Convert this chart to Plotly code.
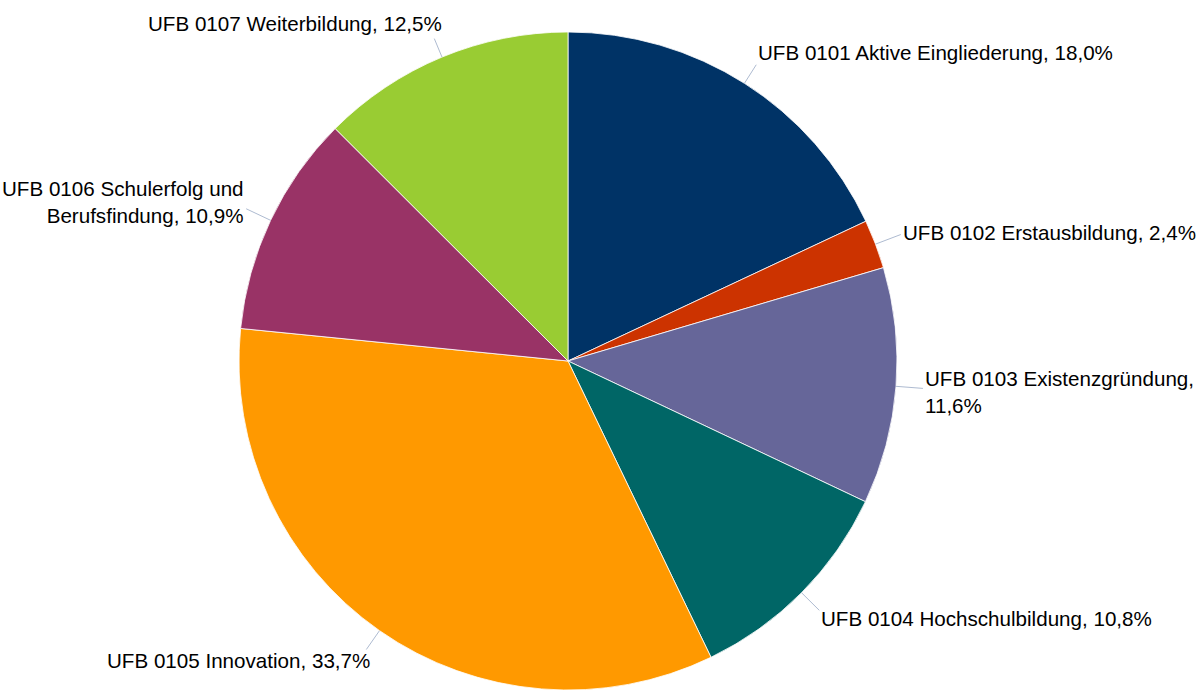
import math
import plotly.graph_objects as go

# ---- data ----
categories = [
    "UFB 0101 Aktive Eingliederung",
    "UFB 0102 Erstausbildung",
    "UFB 0103 Existenzgründung",
    "UFB 0104 Hochschulbildung",
    "UFB 0105 Innovation",
    "UFB 0106 Schulerfolg und Berufsfindung",
    "UFB 0107 Weiterbildung",
]
shares = [18.0, 2.4, 11.6, 10.8, 33.7, 10.9, 12.5]

# ---- style ----
colors = ["#003366", "#CC3300", "#666699", "#006666", "#FF9900", "#993366", "#99CC33"]
W, H = 1200, 690
# pie domain (paper fractions)
dom_x = [(568 - 331) / W, (568 + 331) / W]
dom_y = [0.0, 658 / H]
# label layout styles: leader length, text anchor, offset from leader end (px)
leader_len = [22, 27, 27, 25, 23, 27, 20]
label_anchor = ["left", "left", "left", "left", "right", "right", "right"]
label_dx = [0, 0, 0, 0, 6, 0, 10]
label_dy = [-12, -2, 4, 8, 11, -7, -15]
line_breaks = {2: ("Existenzgründung, ", "Existenzgründung,<br>"),
               5: ("und ", "und<br>")}

fig = go.Figure(go.Pie(
    labels=categories,
    values=shares,
    sort=False,
    direction="clockwise",
    rotation=0,
    marker=dict(colors=colors, line=dict(color="#ffffff", width=0.8)),
    textinfo="none",
    hoverinfo="label+percent",
    domain=dict(x=dom_x, y=dom_y),
    showlegend=False,
))

# geometry of the pie in pixels (derived from domain)
dw = (dom_x[1] - dom_x[0]) * W
dh = (dom_y[1] - dom_y[0]) * H
R = min(dw, dh) / 2
cx = (dom_x[0] + dom_x[1]) / 2 * W
cy = H - (dom_y[0] + dom_y[1]) / 2 * H

total = sum(shares)
cum = 0.0
annotations = []
shapes = []
for i, (name, v) in enumerate(zip(categories, shares)):
    mid = (cum + v / 2) / total * 2 * math.pi
    cum += v
    s, c = math.sin(mid), math.cos(mid)
    x0, y0 = cx + R * s, cy - R * c
    x1, y1 = cx + (R + leader_len[i]) * s, cy - (R + leader_len[i]) * c
    shapes.append(dict(type="line", xref="paper", yref="paper",
                       x0=x0 / W, y0=1 - y0 / H, x1=x1 / W, y1=1 - y1 / H,
                       line=dict(color="#AEBBD1", width=1)))
    text = f"{name}, {v:.1f}%".replace(".", ",")
    if i in line_breaks:
        a, b = line_breaks[i]
        text = text.replace(a, b)
    annotations.append(dict(
        xref="paper", yref="paper",
        x=(x1 + label_dx[i]) / W, y=1 - (y1 + label_dy[i]) / H,
        text=text, showarrow=False,
        xanchor=label_anchor[i], yanchor="middle", align=label_anchor[i],
        font=dict(family="Liberation Sans, Arial, sans-serif", size=20.6, color="#000000"),
    ))

fig.update_layout(
    width=W, height=H,
    margin=dict(l=0, r=0, t=0, b=0),
    paper_bgcolor="white",
    plot_bgcolor="white",
    annotations=annotations,
    shapes=shapes,
    separators=",.",
)

fig.write_html("out.html", config={"displayModeBar": False},
               post_script="document.body.style.margin='0px';")
